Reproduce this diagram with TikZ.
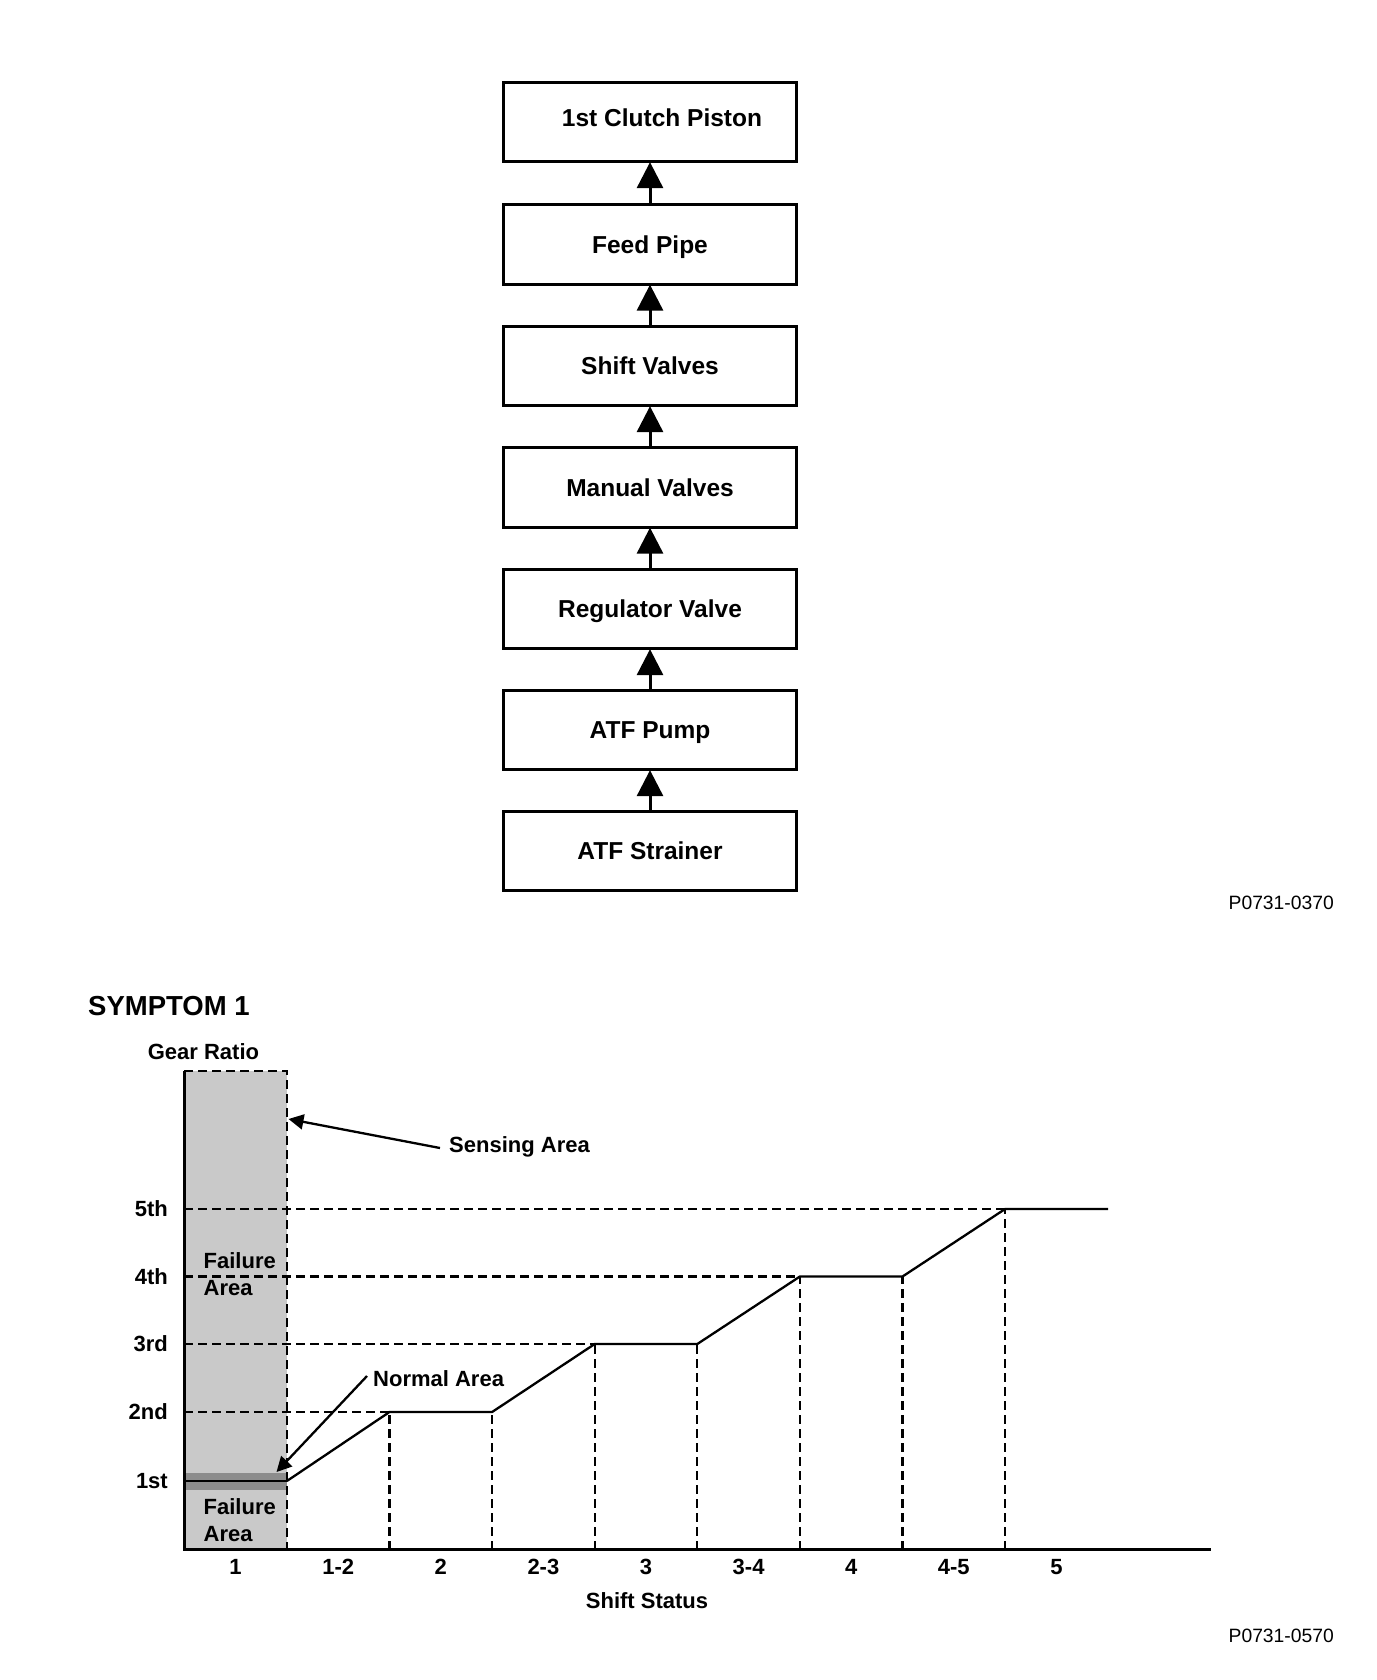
\documentclass[tikz,border=0pt]{standalone}
\usepackage{fontspec}
\setmainfont{Liberation Sans}
\usetikzlibrary{arrows.meta}
\tikzset{
  flowbox/.style={draw, line width=3pt, minimum width=292.6pt, minimum height=79.3pt, inner sep=0pt,
    text depth=0pt, font=\fontsize{24.5}{28}\selectfont\bfseries},
  flowarrow/.style={line width=3pt, -{Triangle[length=26pt,width=26pt]}, shorten >=-1pt},
  lbl/.style={inner sep=0pt, font=\fontsize{22}{26}\selectfont\bfseries},
  code/.style={inner sep=0pt, font=\fontsize{19.3}{22}\selectfont},
  guide/.style={line width=2.3pt, dash pattern=on 9pt off 5pt},
  curve/.style={line width=2.3pt, line join=miter},
  axis/.style={line width=3pt},
  callout/.style={line width=2.3pt, -{Triangle[length=15pt,width=15pt]}},
}
\begin{document}
\begin{tikzpicture}[x=1pt,y=-1pt]
\useasboundingbox (0,0) rectangle (1376,1680);
% ---------- flow chart ----------
\node[flowbox, text depth=9pt] (b1) at (650,122) {\hspace*{24pt}1st Clutch Piston};
\node[flowbox] (b2) at (650,244.5) {Feed Pipe};
\node[flowbox] (b3) at (650,366) {Shift Valves};
\node[flowbox] (b4) at (650,487.5) {Manual Valves};
\node[flowbox] (b5) at (650,609) {Regulator Valve};
\node[flowbox] (b6) at (650,730) {ATF Pump};
\node[flowbox] (b7) at (650,851) {ATF Strainer};
\foreach \a/\b in {b7/b6,b6/b5,b5/b4,b4/b3,b3/b2,b2/b1}
  \draw[flowarrow] (\a.north) -- (\b.south);
\node[code, anchor=east] (c1) at (1334,902.4) {P0731-0370};
% ---------- chart ----------
\node[inner sep=0pt, anchor=west, font=\fontsize{27.5}{32}\selectfont\bfseries] (title) at (88,1006) {SYMPTOM 1};
\node[lbl] (gr) at (203.5,1052) {Gear Ratio};
% shaded sensing area
\fill[black!21] (184.3,1071) rectangle (286.9,1549.5);
\fill[black!45] (184.3,1473) rectangle (286.9,1490);
\draw[line width=2pt] (184.3,1481) -- (286.9,1481);
\draw[guide] (184.3,1071) -- (286.9,1071) -- (286.9,1549.5);
% horizontal guides
\draw[guide] (184.3,1209) -- (1005.1,1209);
\draw[guide] (184.3,1276.5) -- (799.9,1276.5);
\draw[guide] (184.3,1344) -- (594.7,1344);
\draw[guide] (184.3,1412) -- (389.5,1412);
% vertical guides
\draw[guide] (389.5,1549.5) -- (389.5,1412);
\draw[guide] (492.1,1549.5) -- (492.1,1412);
\draw[guide] (594.7,1549.5) -- (594.7,1344);
\draw[guide] (697.3,1549.5) -- (697.3,1344);
\draw[guide] (799.9,1549.5) -- (799.9,1276.5);
\draw[guide] (902.5,1549.5) -- (902.5,1276.5);
\draw[guide] (1005.1,1549.5) -- (1005.1,1209);
% gear curve
\draw[curve] (286.9,1481) -- (389.5,1412) -- (492.1,1412) -- (594.7,1344) -- (697.3,1344)
  -- (799.9,1276.5) -- (902.5,1276.5) -- (1005.1,1209) -- (1108,1209);
% axes
\draw[axis] (184.3,1071) -- (184.3,1549.5) -- (1211,1549.5);
% y labels
\foreach \t/\y in {5th/1209,4th/1276.5,3rd/1344,2nd/1412,1st/1481}
  \node[lbl, anchor=east] (y\t) at (168,\y) {\t};
% x labels
\foreach \t/\x [count=\i] in {1/235.6,1-2/338.2,2/440.8,2-3/543.4,3/646,3-4/748.6,4/851.2,4-5/953.8,5/1056.4}
  \node[lbl] (x\i) at (\x,1567) {\t};
\node[lbl] (ss) at (647,1601) {Shift Status};
% area labels
\node[lbl, anchor=west, align=left] (fa1) at (203.5,1274) {Failure\\[1pt]Area};
\node[lbl, anchor=west, align=left] (fa2) at (203.5,1520.5) {Failure\\[1pt]Area};
% callouts
\node[lbl, anchor=west] (sens) at (449,1147) {Sensing Area};
\coordinate (sensTip) at (288.5,1119);
\draw[callout] ([xshift=-9pt,yshift=-1pt]sens.west) -- (sensTip);
\node[lbl, anchor=west] (norm) at (373,1379) {Normal Area};
\coordinate (normTip) at (276.5,1472);
\draw[callout] ([xshift=-6pt,yshift=3pt]norm.west) -- (normTip);
\node[code, anchor=east] (c2) at (1334,1635.4) {P0731-0570};
\end{tikzpicture}
\end{document}
